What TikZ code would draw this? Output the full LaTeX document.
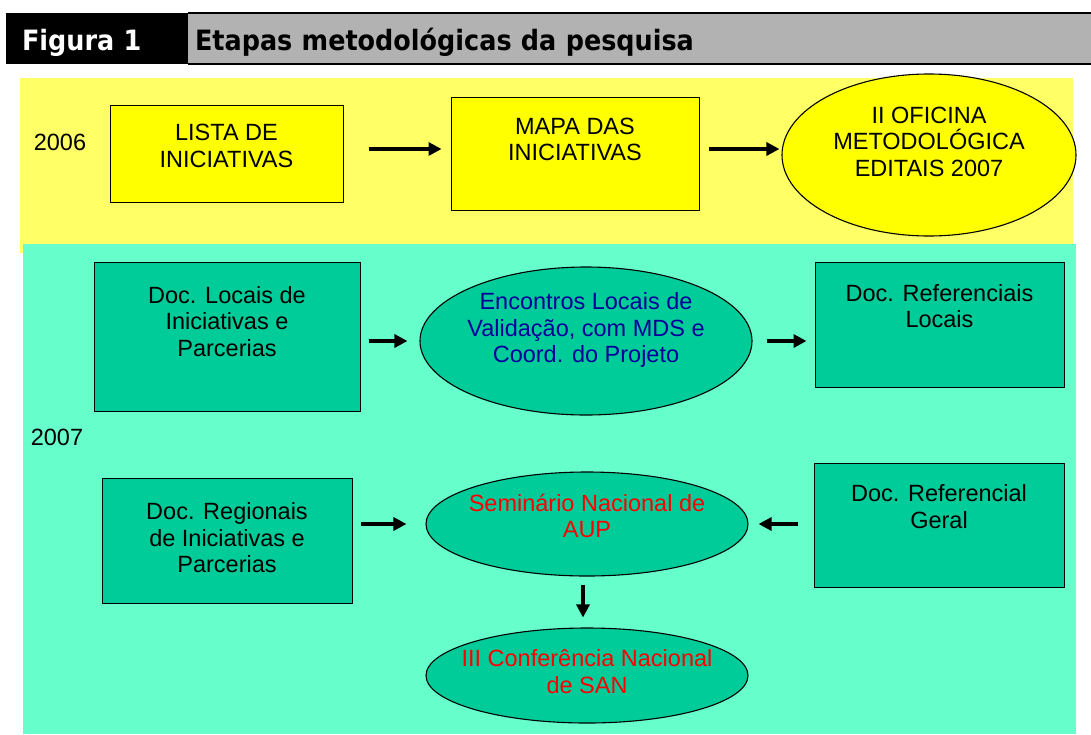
\documentclass[tikz,border=0pt]{standalone}
\usepackage{fontspec}
\setmainfont{Liberation Sans}
\newfontfamily\headfont[FakeStretch=0.91]{DejaVu Sans}
\usetikzlibrary{arrows.meta}
\usetikzlibrary{shapes.geometric}
\definecolor{bandyellow}{HTML}{FFFF66}
\definecolor{bandcyan}{HTML}{66FFCC}
\definecolor{fillyellow}{HTML}{FFFF00}
\definecolor{fillgreen}{HTML}{00CC99}
\definecolor{headgray}{HTML}{B2B2B2}
\definecolor{textnavy}{HTML}{000099}
\tikzset{
        txt/.style={font=\fontsize{23.5}{26.5}\selectfont, align=center},
        % Title bar
        head/.style={rectangle, inner ysep=0pt, minimum height=51pt, text height=23pt, text depth=0pt, align=left, font=\headfont\bfseries\fontsize{28}{30}\selectfont},
        head_black/.style={head, fill=black, text=white, inner xsep=16pt, text width=150pt},
        head_gray/.style={head, fill=headgray, inner xsep=7pt, text width=889pt},
        % Boxes
        box/.style={rectangle, draw=black, line width=1pt, inner sep=0pt},
        box_yellow/.style={box, fill=fillyellow},
        box_green/.style={box, fill=fillgreen},
        % Ovals
        oval/.style={ellipse, draw=black, line width=1.1pt, inner sep=0pt},
        oval_yellow/.style={oval, fill=fillyellow},
        oval_green/.style={oval, fill=fillgreen},
        % Arrows between stages
        flow/.style={-{Triangle[length=13pt,width=13pt]}, line width=3.5pt}
}
\begin{document}
\begin{tikzpicture}[x=1pt, y=-1pt]
    \useasboundingbox (0,0) rectangle (1091,734);
    % title
    \node[head_gray] (title) at (639.5,38.5) {Etapas metodológicas da pesquisa};
    \draw[line width=1.5pt] (title.north west) -- (title.north east);
    \draw[line width=2pt] (title.south west) -- (title.south east);
    \node[head_black] (fig) at (97,38.5) {Figura 1};
    % bands
    \fill[bandyellow] (20,78) rectangle (1073,253);
    \fill[bandcyan] (23,244) rectangle (1076,734);
    \node[txt] (y2006) at (60,142) {2006};
    \node[txt] (y2007) at (57,437) {2007};
    % 2006
    \node[box_yellow, minimum width=233pt, minimum height=97pt,
        label={[txt, yshift=7.5pt]center:{LISTA DE\\INICIATIVAS}}] (lista) at (226.5,153.5) {};
    \node[box_yellow, minimum width=248pt, minimum height=113pt,
        label={[txt, yshift=14pt]center:{MAPA DAS\\INICIATIVAS}}] (mapa) at (575,153.5) {};
    \node[oval_yellow, minimum width=294pt, minimum height=162pt,
        label={[txt, yshift=13.5pt]center:{II OFICINA\\METODOLÓGICA\\EDITAIS 2007}}] (oficina) at (929,155) {};
    % 2007
    \node[box_green, minimum width=266pt, minimum height=149pt,
        label={[txt, yshift=15pt]center:{Doc. Locais de\\Iniciativas e\\Parcerias}}] (doclocais) at (227,336.5) {};
    \node[oval_green, minimum width=332pt, minimum height=148pt,
        label={[txt, text=textnavy, yshift=11pt]center:{Encontros Locais de\\Validação, com MDS e\\Coord. do Projeto}}] (encontros) at (586,341) {};
    \node[box_green, minimum width=249pt, minimum height=125pt,
        label={[txt, yshift=18.5pt]center:{Doc. Referenciais\\Locais}}] (reflocais) at (939.5,324.5) {};
    \node[box_green, minimum width=250pt, minimum height=125pt,
        label={[txt, yshift=2.5pt]center:{Doc. Regionais\\de Iniciativas e\\Parcerias}}] (docregionais) at (227,540.5) {};
    \node[oval_green, minimum width=322pt, minimum height=104pt,
        label={[txt, text=red, yshift=8pt]center:{Seminário Nacional de\\AUP}}] (seminario) at (587,524) {};
    \node[box_green, minimum width=250pt, minimum height=124pt,
        label={[txt, yshift=18.5pt]center:{Doc. Referencial\\Geral}}] (refgeral) at (939,525) {};
    \node[oval_green, minimum width=322pt, minimum height=95pt,
        label={[txt, text=red, yshift=4pt]center:{III Conferência Nacional\\de SAN}}] (conferencia) at (587,675.5) {};
    % arrows
    \draw[flow, shorten <=25pt, shorten >=9pt] ([yshift=4.5pt]lista.east) -- ([yshift=4.5pt]lista.east -| mapa.west);
    \draw[flow, shorten <=9pt, shorten >=2pt] ([yshift=4.5pt]mapa.east) -- ([yshift=4.5pt]mapa.east -| oficina.west);
    \draw[flow, shorten <=8pt, shorten >=12pt] (encontros.west -| doclocais.east) -- (encontros.west);
    \draw[flow, shorten <=14pt, shorten >=8pt] (encontros.east) -- (encontros.east -| reflocais.west);
    \draw[flow, shorten <=8pt, shorten >=19pt] (seminario.west -| docregionais.east) -- (seminario.west);
    \draw[flow, shorten <=16pt, shorten >=10pt] (seminario.east -| refgeral.west) -- (seminario.east);
    \draw[flow, shorten <=8pt, shorten >=10pt] ([xshift=-4pt]seminario.south) -- ([xshift=-4pt]seminario.south |- conferencia.north);
\end{tikzpicture}
\end{document}
